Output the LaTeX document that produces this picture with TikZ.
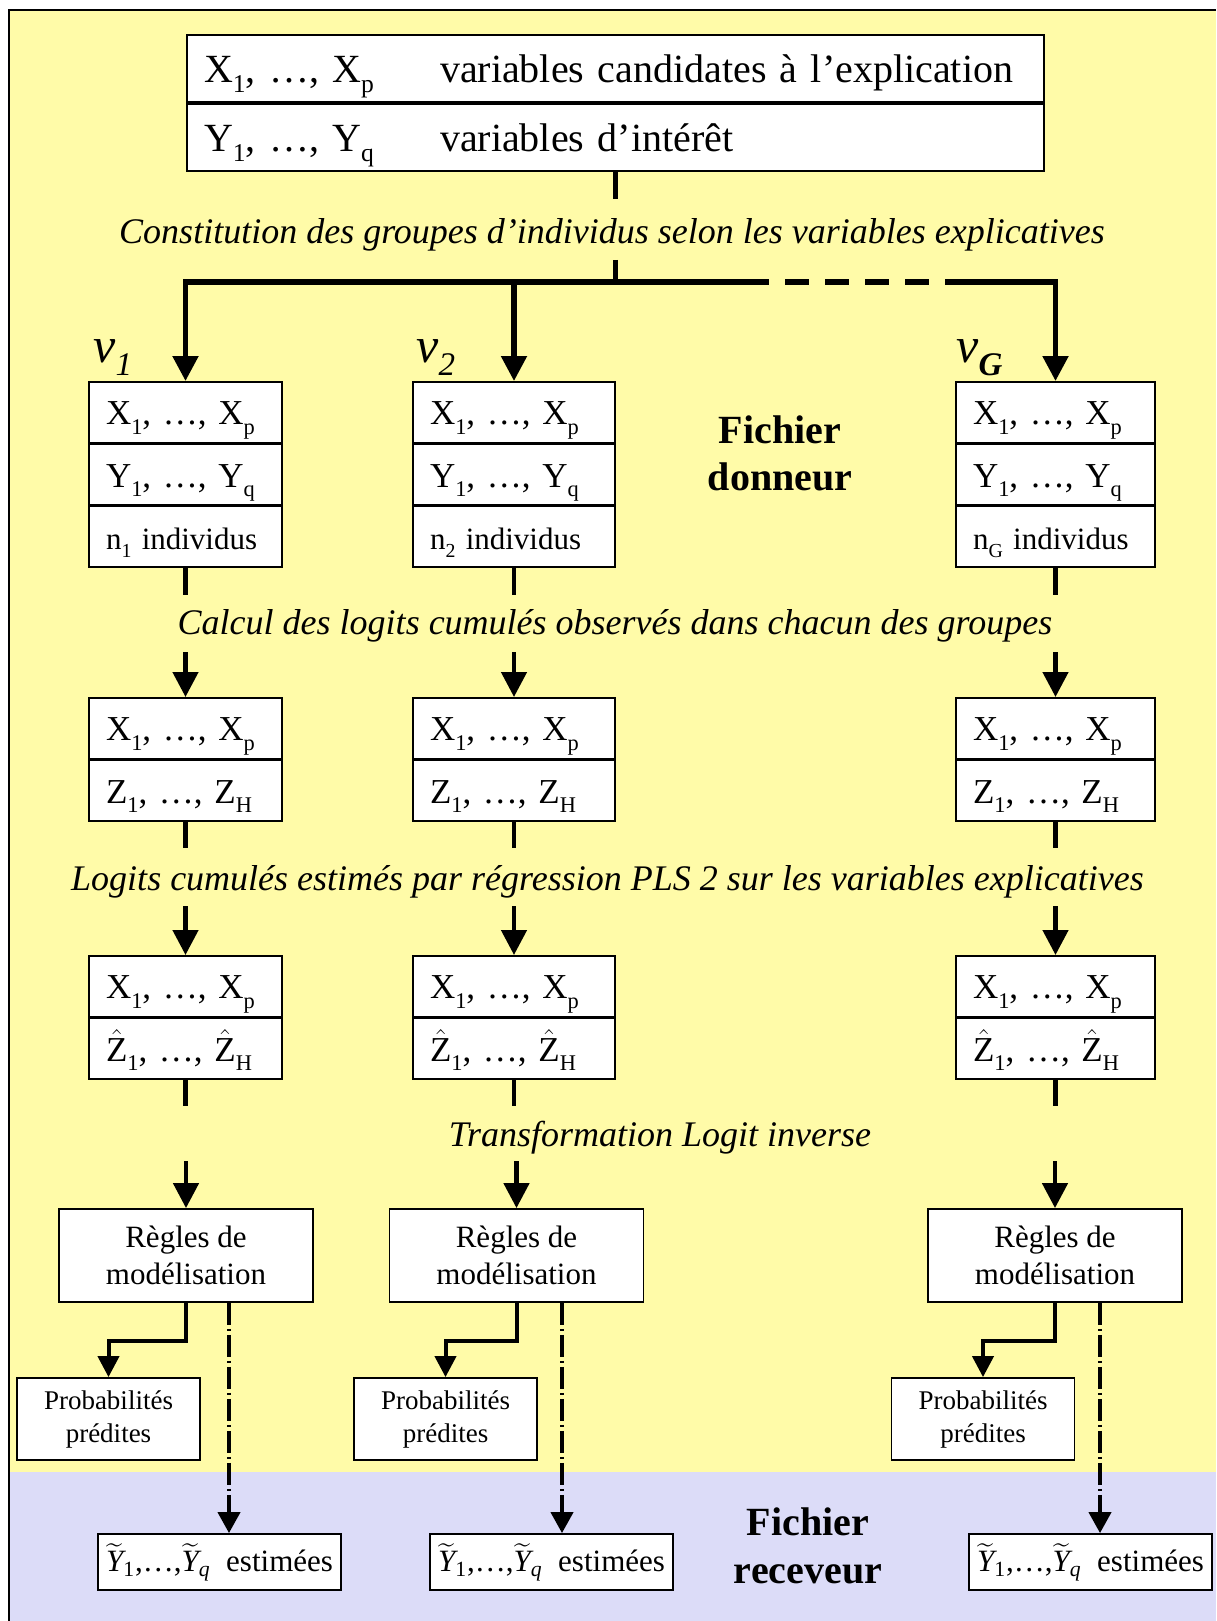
\documentclass[tikz,border=0pt]{standalone}
\usepackage{fontspec}
\setmainfont{Liberation Serif}
\usepackage{amsmath}
\usepackage{graphicx}
\usetikzlibrary{arrows.meta}
\definecolor{bgyellow}{RGB}{255,251,168}
\definecolor{bgblue}{RGB}{220,220,248}
\newcommand\myfs[2]{\fontsize{#1}{#2}\selectfont}
\newcommand\lsub[1]{\raisebox{-0.26em}{\scalebox{0.64}{#1}}}
\newcommand\Xrow{X\lsub{1}, …, X\lsub{p}}
\newcommand\Yrow{Y\lsub{1}, …, Y\lsub{q}}
\newcommand\Zrow{Z\lsub{1}, …, Z\lsub{H}}
\newcommand\Zhrow{$\hat{\text{Z}}$\lsub{1}, …, $\hat{\text{Z}}$\lsub{H}}
\newcommand\Ytrow{$\widetilde{\textit{Y}}_{\text{1}}$,…,$\widetilde{\textit{Y}}_{\textit{q}}$\ \ estimées}
\begin{document}
\begin{tikzpicture}[x=0.5pt,y=-0.5pt,
  cell/.style={draw, fill=white, line width=0.9pt, inner xsep=8.5pt, inner ysep=0pt, anchor=north, align=left, minimum height=30.25pt, text height=16.75pt, text depth=4pt, font=\myfs{17.5}{21}},
  topcell/.style={draw, fill=white, line width=0.9pt, inner xsep=8.5pt, inner ysep=0pt, anchor=north, align=left, minimum height=33.5pt, text height=19pt, text depth=5pt, text width=411.5pt, font=\myfs{20}{24}},
  rulebox/.style={draw, fill=white, line width=0.9pt, align=center, minimum width=127pt, minimum height=46.5pt, inner sep=0pt, font=\myfs{15.5}{18.5}},
  probbox/.style={draw, fill=white, line width=0.9pt, align=center, minimum width=91.5pt, minimum height=41pt, inner sep=0pt, font=\myfs{13.5}{16.5}},
  estbox/.style={draw, fill=white, line width=0.9pt, align=center, minimum width=121.5pt, minimum height=28pt, inner sep=0pt, font=\myfs{15.5}{18.5}},
  lab/.style={font=\myfs{18}{22}\itshape, anchor=base, inner sep=0pt},
  big/.style={font=\myfs{20}{23.75}\bfseries, align=center, inner sep=0pt},
  vlab/.style={font=\myfs{25}{30}\itshape, anchor=base west, inner sep=0pt},
  flow/.style={line width=2.3pt},
  flowarr/.style={line width=2.3pt, -{Triangle[length=12.5pt,width=12.5pt]}},
  busline/.style={line width=2.6pt},
  elbow/.style={line width=2pt, -{Triangle[length=10.5pt,width=10.5pt]}},
  ddarr/.style={line width=2pt, dash pattern=on 11pt off 2pt on 1pt off 2pt, -{Triangle[length=10.5pt,width=11pt]}}
]
\useasboundingbox (0,0) rectangle (1216,1621);
% background
\fill[bgyellow] (9,10) rectangle (1216,1472);
\fill[bgblue] (9,1472) rectangle (1216,1621);
\draw[line width=1.2pt] (1216,10) -- (9,10) -- (9,1621);

% top box
\node[topcell] (top1) at (615.5,34) {\hbox to 118pt{\Xrow\hfil}variables candidates à l’explication};
\node[topcell] (top2) at (top1.south) {\hbox to 118pt{\Yrow\hfil}variables d’intérêt};

% labels
\node[lab] (l1) at (612,243) {Constitution des groupes d’individus selon les variables explicatives};
\node[lab] (l2) at (615,634) {Calcul des logits cumulés observés dans chacun des groupes};
\node[lab] (l3) at (607.5,890) {Logits cumulés estimés par régression PLS 2 sur les variables explicatives};
\node[lab] (l4) at (660,1146) {Transformation Logit inverse};

\node[big] (fd) at (780,453.5) {Fichier\\donneur};
\node[big] (fr) at (808,1546) {Fichier\\receveur};

\node[vlab] (v1) at (93,362) {v\raisebox{-6.5pt}{\myfs{16.5}{20}1}};
\node[vlab] (v2) at (416,362) {v\raisebox{-6.5pt}{\myfs{16.5}{20}2}};
\node[vlab] (vG) at (956,362) {v\raisebox{-6.5pt}{\myfs{16.5}{20}\bfseries G}};

% columns
\foreach \i/\cx/\tw/\ns/\rx/\px/\ex/\dx in {1/185.5/79.5/1/186/108.5/219.5/229, 2/514/84/2/516.5/445.5/551.5/562, 3/1055.5/82.5/G/1055/983/1090.5/1100}{
  \node[cell, text width=\tw pt] (g\i a) at (\cx,381) {\Xrow};
  \node[cell, text width=\tw pt] (g\i b) at (g\i a.south) {\Yrow};
  \node[cell, text width=\tw pt, font=\myfs{15.5}{18}] (g\i c) at (g\i b.south) {n\lsub{\ns} individus};
  \node[cell, text width=\tw pt] (z\i a) at (\cx,697) {\Xrow};
  \node[cell, text width=\tw pt] (z\i b) at (z\i a.south) {\Zrow};
  \node[cell, text width=\tw pt] (h\i a) at (\cx,955) {\Xrow};
  \node[cell, text width=\tw pt] (h\i b) at (h\i a.south) {\Zhrow};
  \node[rulebox] (r\i) at (\rx,1255.5) {Règles de\\modélisation};
  \node[probbox] (p\i) at (\px,1419) {Probabilités\\prédites};
  \node[estbox] (e\i) at (\ex,1562) {\Ytrow};
  \path (g\i c.south) ++(0,27) coordinate (s\i a);
  \path (z\i a.north) ++(0,-45) coordinate (s\i b);
  \path (z\i b.south) ++(0,26) coordinate (s\i c);
  \path (h\i a.north) ++(0,-49) coordinate (s\i d);
  \path (h\i b.south) ++(0,26) coordinate (s\i e);
  \path (r\i.north) ++(0,-47) coordinate (s\i f);
  \coordinate (dd\i) at (\dx,0);
  \draw[flow] (g\i c.south) -- (s\i a);
  \draw[flowarr] (s\i b) -- (z\i a.north);
  \draw[flow] (z\i b.south) -- (s\i c);
  \draw[flowarr] (s\i d) -- (h\i a.north);
  \draw[flow] (h\i b.south) -- (s\i e);
  \draw[flowarr] (s\i f) -- (r\i.north);
  \draw[elbow] (r\i.south) -- ++(0,38) -| (p\i.north);
  \draw[ddarr] (r\i.south -| dd\i) -- (e\i.north -| dd\i);
}

% distribution bus
\coordinate (t1) at (615.5,199);
\coordinate (t2) at (615.5,260);
\coordinate (bj) at (615.5,282);
\coordinate (d1) at (745,282);
\coordinate (d2) at (954,282);
\draw[flow] (top2.south) -- (t1);
\draw[flow] (t2) -- (bj);
\draw[busline, dash pattern=on 12pt off 8pt] (d1) -- (d2);
\draw[busline, -{Triangle[length=12.5pt,width=12.5pt]}] (d1) -- (g1a.north |- bj) -- (g1a.north);
\draw[busline, -{Triangle[length=12.5pt,width=12.5pt]}] (g2a.north |- bj) -- (g2a.north);
\draw[busline, -{Triangle[length=12.5pt,width=12.5pt]}] (d2) -- (g3a.north |- bj) -- (g3a.north);
\end{tikzpicture}
\end{document}
